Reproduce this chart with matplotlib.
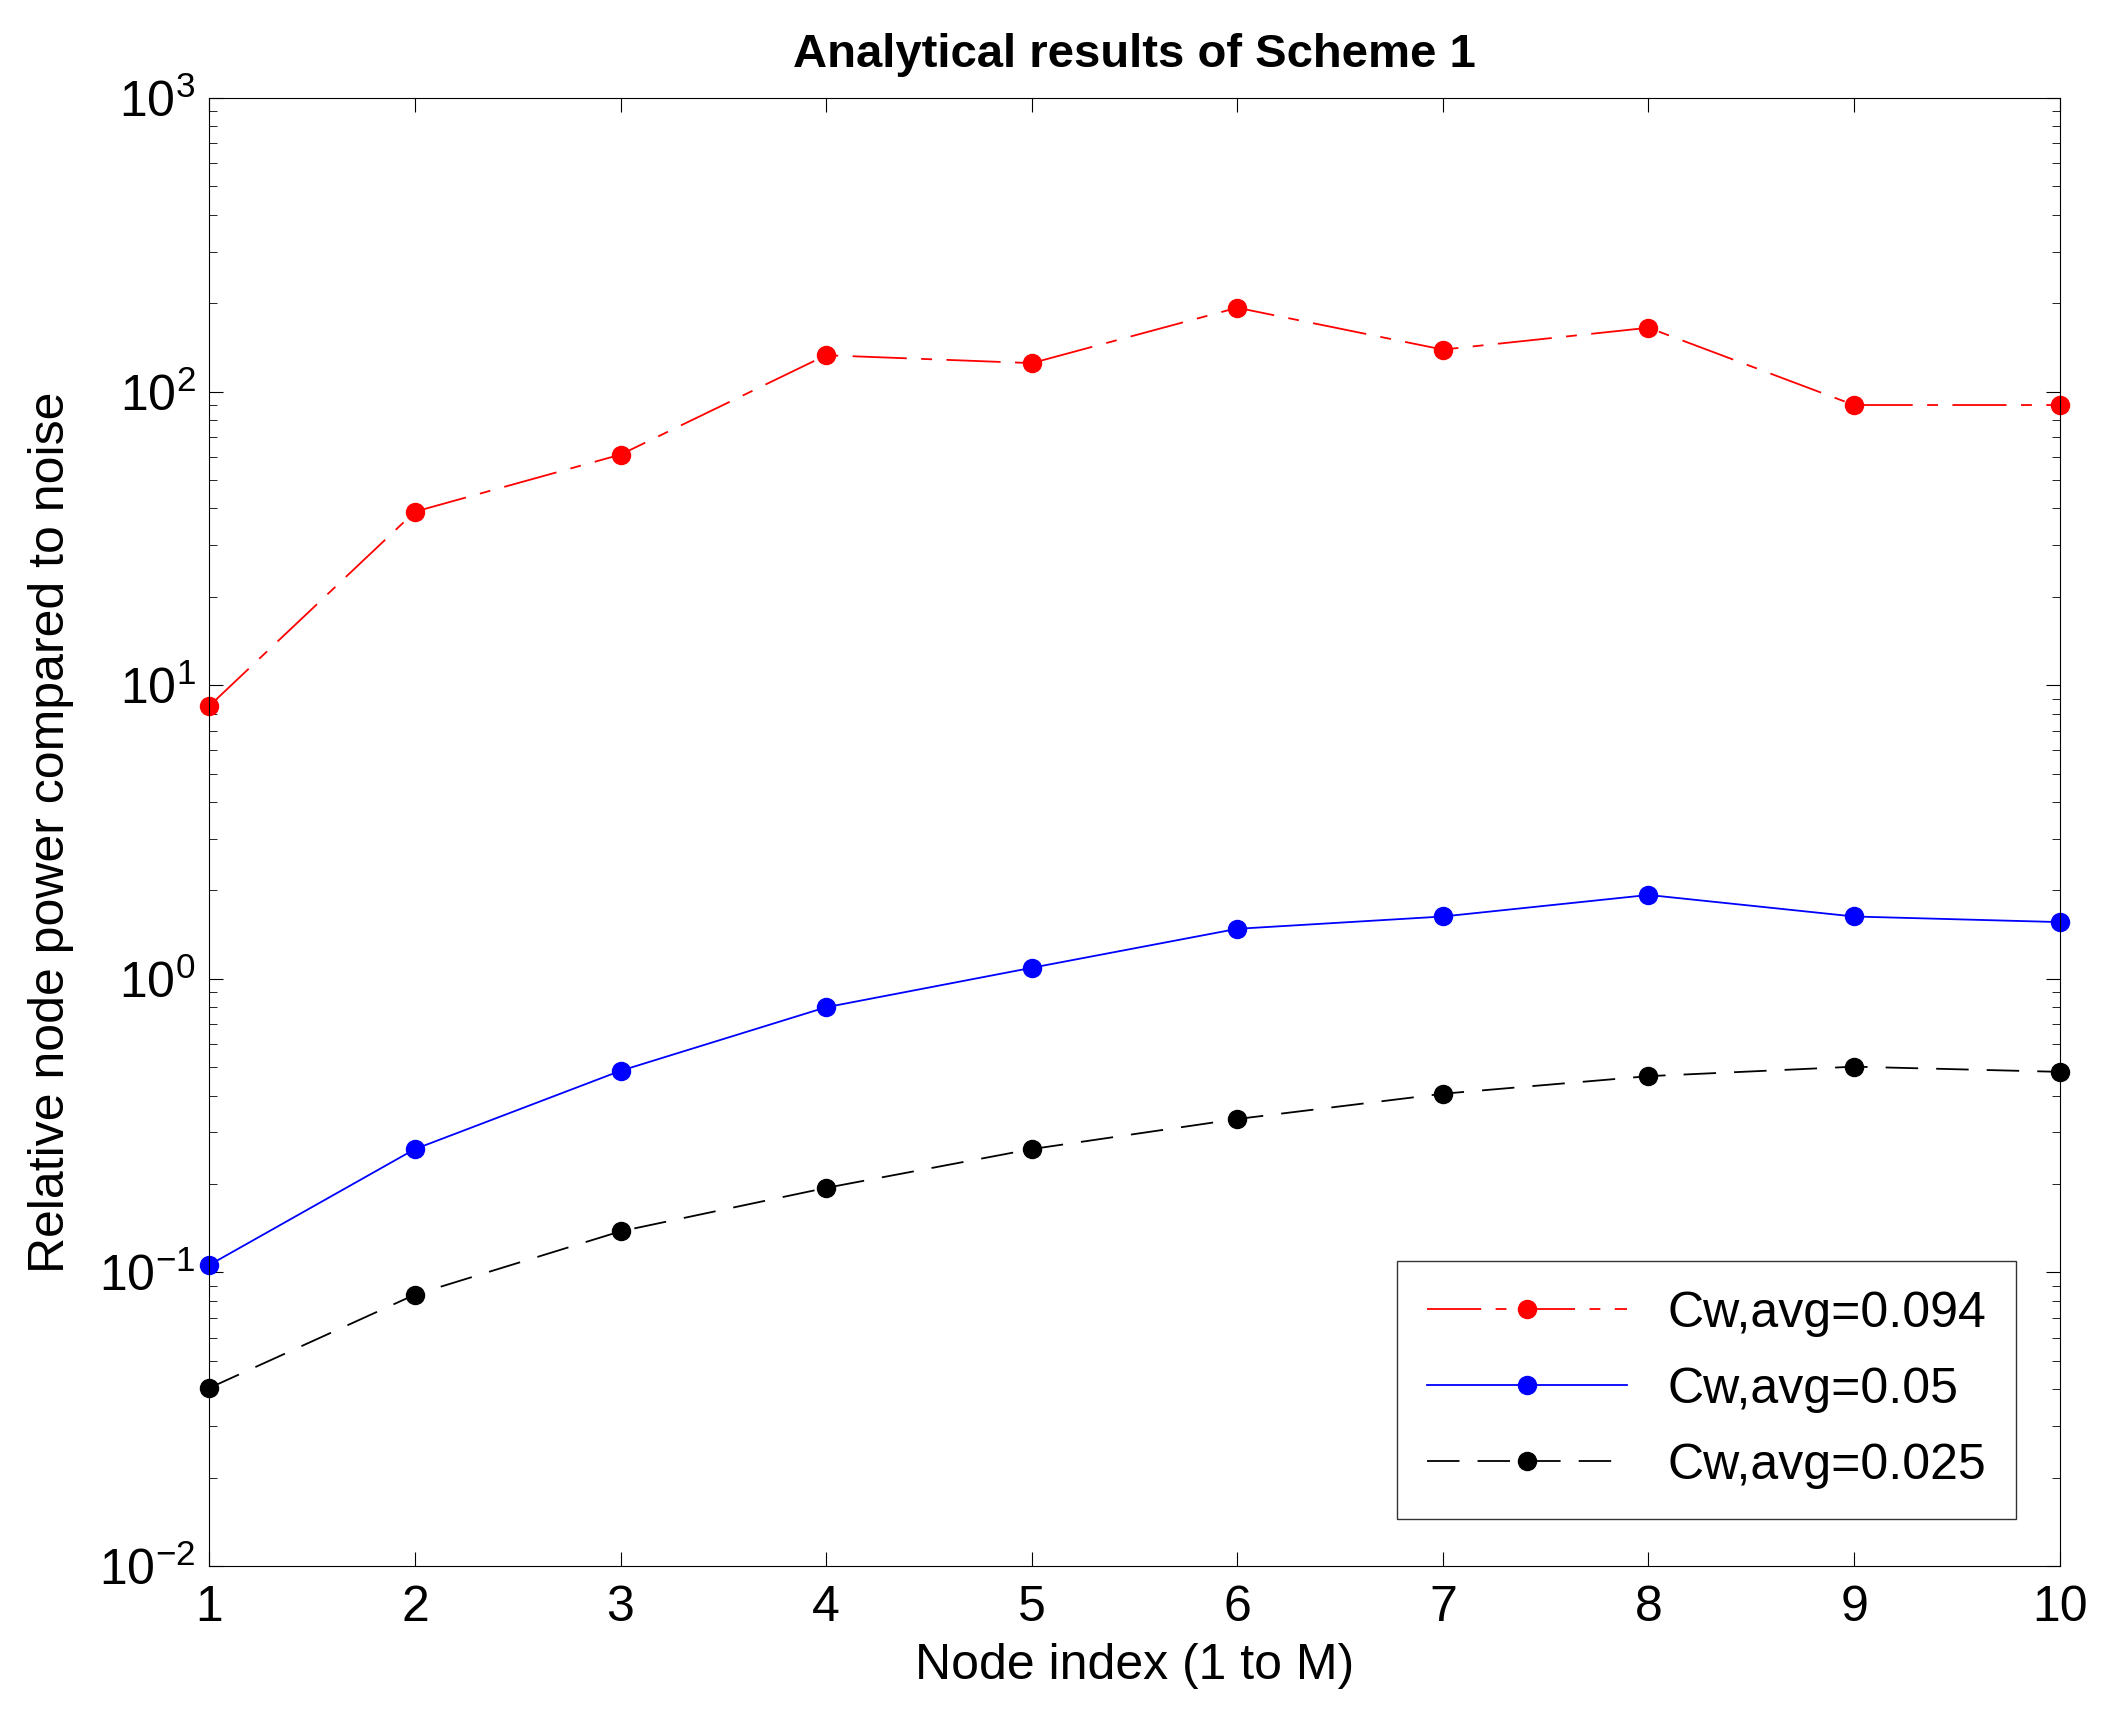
import matplotlib
matplotlib.use("Agg")
import matplotlib.pyplot as plt

nodes = [1, 2, 3, 4, 5, 6, 7, 8, 9, 10]
red_vals = [8.5, 39, 61, 133, 125, 193, 139, 165, 90, 90]
blue_vals = [0.106, 0.263, 0.486, 0.80, 1.09, 1.48, 1.63, 1.93, 1.63, 1.56]
black_vals = [0.0404, 0.084, 0.138, 0.194, 0.263, 0.333, 0.406, 0.466, 0.502, 0.482]
labels = ["Cw,avg=0.094", "Cw,avg=0.05", "Cw,avg=0.025"]

plt.rcParams["font.family"] = "Liberation Sans"
fig = plt.figure(figsize=(21.06, 17.19), dpi=100)
ax = fig.add_axes([0.0994, 0.089, 0.8846 - 0.006, 0.854])
ax.plot(nodes, red_vals, color="red", lw=1.3, marker="o", ms=13, dashes=(30, 8, 6, 8), label=labels[0], clip_on=False)
ax.plot(nodes, blue_vals, color="blue", lw=1.3, marker="o", ms=13, label=labels[1], clip_on=False)
ax.plot(nodes, black_vals, color="black", lw=1.3, marker="o", ms=13, dashes=(18, 10), label=labels[2], clip_on=False)
ax.set_yscale("log")
ax.set_xlim(1, 10)
ax.set_ylim(1e-2, 1e3)
ax.set_xticks(nodes)
ax.tick_params(which="both", direction="in", top=True, right=True, labelsize=36)
ax.tick_params(axis="x", pad=14)
ax.tick_params(axis="y", pad=10)
ax.tick_params(which="major", length=10)
ax.tick_params(which="minor", length=6)
ax.set_xlabel("Node index (1 to M)", fontsize=36, labelpad=8)
ax.set_ylabel("Relative node power compared to noise", fontsize=36, labelpad=18)
ax.set_title("Analytical results of Scheme 1", fontsize=34, fontweight="bold", pad=22)
leg = ax.legend(loc="lower right", fontsize=36, fancybox=False, edgecolor="black",
                handlelength=4, borderpad=0.6, labelspacing=0.6, bbox_to_anchor=(0.99, 0.015))
leg.get_frame().set_linewidth(1)
fig.savefig("out.png", dpi=100, facecolor="white")
